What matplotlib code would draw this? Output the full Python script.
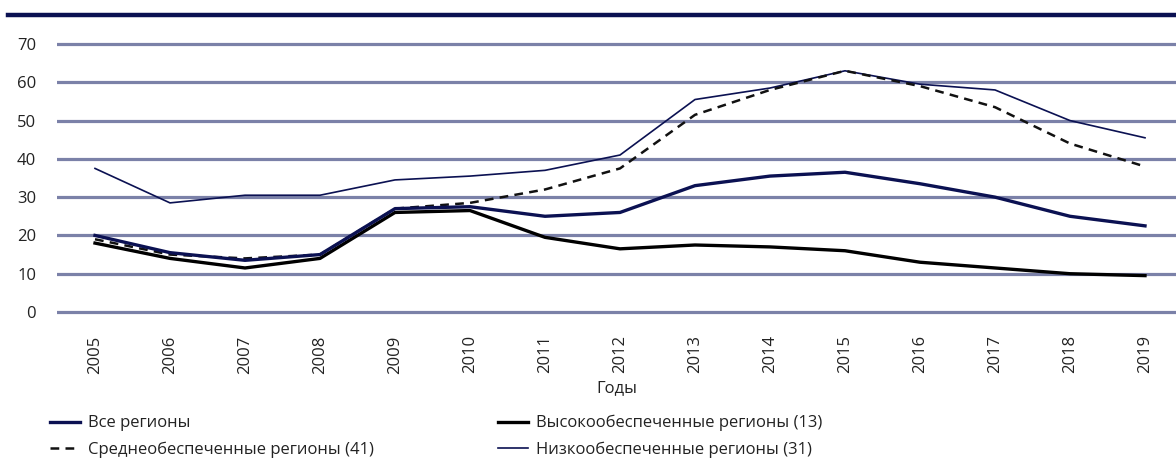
import matplotlib
matplotlib.use("Agg")
import matplotlib.pyplot as plt
from matplotlib.lines import Line2D

years = list(range(2005, 2020))
year_labels = [str(y) for y in years]
all_regions = [20, 15.5, 13.5, 15, 27, 27.5, 25, 26, 33, 35.5, 36.5, 33.5, 30, 25, 22.5]
high_regions = [18, 14, 11.5, 14, 26, 26.5, 19.5, 16.5, 17.5, 17, 16, 13, 11.5, 10, 9.5]
mid_regions = [19, 15, 14, 15, 27, 28.5, 32, 37.5, 51.5, 58, 63, 59, 53.5, 44, 38]
low_regions = [37.5, 28.5, 30.5, 30.5, 34.5, 35.5, 37, 41, 55.5, 58.5, 63, 59.5, 58, 50, 45.5]
y_ticks = [0, 10, 20, 30, 40, 50, 60, 70]

names = ["Все регионы", "Высокообеспеченные регионы (13)",
         "Среднеобеспеченные регионы (41)", "Низкообеспеченные регионы (31)"]
x_label = "Годы"

NAVY = "#0b1152"
GRID = "#7b81a8"
TXT = "#222222"
FS = 12
plt.rcParams['font.family'] = ['Open Sans', 'DejaVu Sans']

W, H = 1176, 461
fig = plt.figure(figsize=(W / 100, H / 100), dpi=100)
x_left, x_right = 57, 1176
y0_px, y70_px = 312, 44
unit = (y0_px - y70_px) / 70.0
ymin, ymax = -1, 71
bottom_px = y0_px + unit * 1
top_px = y70_px - unit * 1
ax = fig.add_axes([x_left / W, 1 - bottom_px / H, (x_right - x_left) / W, (bottom_px - top_px) / H])

xstep = (1145 - 95) / 14.0
xmin = 2005 - (95 - x_left) / xstep
xmax = 2019 + (x_right - 1145) / xstep
ax.set_xlim(xmin, xmax)
ax.set_ylim(ymin, ymax)

for t in y_ticks:
    ax.axhline(t, color=GRID, lw=2.3, zorder=1)

ax.plot(years, low_regions, color=NAVY, lw=1.2, zorder=3)
ax.plot(years, mid_regions, color="#111111", lw=1.8, ls=(0, (3.5, 2.5)), zorder=3)
ax.plot(years, all_regions, color=NAVY, lw=2.4, zorder=4)
ax.plot(years, high_regions, color="black", lw=2.4, zorder=3)

for s in ax.spines.values():
    s.set_visible(False)
ax.set_yticks(y_ticks)
ax.set_yticklabels([str(t) for t in y_ticks], fontsize=FS, color=TXT)
ax.set_xticks(years)
ax.set_xticklabels(year_labels, rotation=90, fontsize=FS, color=TXT)
ax.tick_params(axis="both", length=0)
ax.tick_params(axis="y", pad=15)
ax.tick_params(axis="x", pad=14)
ax.set_xlabel(x_label, fontsize=FS, color=TXT, labelpad=5)

fig.add_artist(Line2D([8 / W, 1.0], [1 - 15 / H, 1 - 15 / H], color=NAVY, lw=3.2))

handles = [
    Line2D([], [], color=NAVY, lw=2.4),
    Line2D([], [], color="#111111", lw=1.8, ls=(0, (3.5, 2.5))),
    Line2D([], [], color="black", lw=2.4),
    Line2D([], [], color=NAVY, lw=1.2),
]
labels = [names[0], names[2], names[1], names[3]]
fig.legend(handles, labels, ncol=2, loc="upper left",
           bbox_to_anchor=(35 / W, 1 - 400 / H), frameon=False,
           fontsize=FS, handlelength=1.8, handletextpad=0.5,
           columnspacing=7.4, labelspacing=0.6, labelcolor=TXT)

fig.savefig("out.png", dpi=100)
